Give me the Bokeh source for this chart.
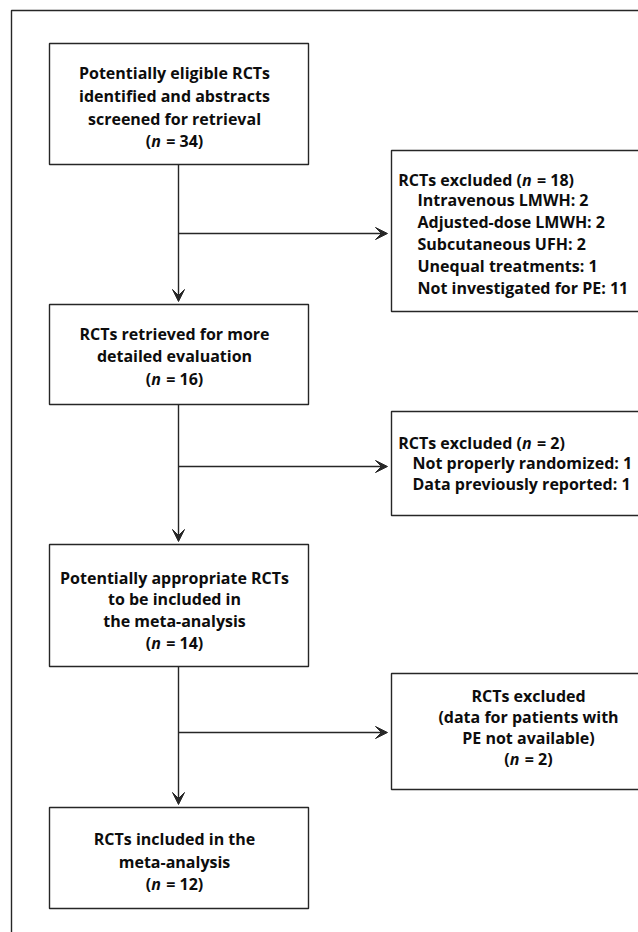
from bokeh.plotting import figure
from bokeh.models import Range1d, Arrow, VeeHead
from bokeh.embed import file_html
from bokeh.resources import INLINE
from bokeh.core.properties import value

# ---------------- data ----------------
stage_text = [
    ["Potentially eligible RCTs", "identified and abstracts", "screened for retrieval"],
    ["RCTs retrieved for more", "detailed evaluation"],
    ["Potentially appropriate RCTs", "to be included in", "the meta-analysis"],
    ["RCTs included in the", "meta-analysis"],
]
stage_n = [34, 16, 14, 12]

excluded_n = [18, 2, 2]
excl1_reasons = ["Intravenous LMWH", "Adjusted-dose LMWH", "Subcutaneous UFH",
                 "Unequal treatments", "Not investigated for PE"]
excl1_counts = [2, 2, 2, 1, 11]
excl2_reasons = ["Not properly randomized", "Data previously reported"]
excl2_counts = [1, 1]
excl3_text = ["RCTs excluded", "(data for patients with", "PE not available)"]

# ---------------- layout (screen pixels) ----------------
W, H = 638, 932
X0, Y0 = 0, 0
FS = 16
FONT = "Open Sans"
LC = "#262626"
TC = "#0d0d0d"
LW = 1.4

main_left, main_right, main_cx, text_cx = 49, 308, 178, 174
main_tops = [43, 304, 544, 807]
main_bottoms = [164, 404, 666, 908]
main_lines_y = [[72, 95, 118, 140], [333, 355, 378], [577, 598, 620, 642], [838, 861, 883]]

side_left = 391
side_rights = [720, 720, 665]
side_tops = [150, 411, 673]
side_bottoms = [311, 515, 789]
arrow_y = [233, 466, 732]
e1_y = [179, 199, 221, 243, 265, 287]
e2_y = [442, 462, 483]
e3_y = [695, 716, 737, 758]
e3_cx = 528
hdr_x, ind1_x, ind2_x = 400, 417, 412

p = figure(width=W, height=H, x_range=Range1d(X0, X0 + W), y_range=Range1d(Y0 + H, Y0),
           output_backend="svg", toolbar_location=None, min_border=0)
p.axis.visible = False
p.grid.visible = False
p.outline_line_color = None
p.background_fill_color = "white"
p.border_fill_color = "white"

# outer frame (cut by the page edges)
p.quad(left=[11], right=[800], top=[10], bottom=[1100], fill_color=None,
       line_color=LC, line_width=LW)

# boxes
p.quad(left=[main_left] * 4, right=[main_right] * 4, top=main_tops, bottom=main_bottoms,
       fill_color="white", line_color=LC, line_width=LW)
p.quad(left=[side_left] * 3, right=side_rights, top=side_tops, bottom=side_bottoms,
       fill_color="white", line_color=LC, line_width=LW)

# arrows
def arrow(xs, ys, xe, ye):
    p.add_layout(Arrow(end=VeeHead(size=12, fill_color=LC, line_color=LC, line_width=1),
                       x_start=xs, y_start=ys, x_end=xe, y_end=ye,
                       line_color=LC, line_width=LW))

for i in range(3):
    arrow(main_cx, main_bottoms[i], main_cx, main_tops[i + 1] - 3)
    arrow(main_cx, arrow_y[i], side_left - 4, arrow_y[i])

# ---------------- text ----------------
W_OSB = {' ': .26, '(': .33, ')': .33, '=': .57, 'R': .66, 'C': .61, 'T': .56,
         's': .50, 'e': .57, 'x': .56, 'c': .49, 'l': .30, 'u': .64, 'd': .64, 'n': .64}
W_N_IT = .62
W_SP = .32


def tw(s):
    return sum(W_OSB.get(ch, .57 if ch.isdigit() else .58) for ch in s) * FS


def txt(x, y, s, align="center", style="bold"):
    p.text(x=[x], y=[y], text=[s], text_font=value(FONT), text_font_style=style,
           text_font_size=f"{FS}px", text_align=align, text_baseline="middle",
           text_color=TC)


def n_line(prefix, count, y, x=None, cx=None):
    pre = prefix + "("
    post = f"= {count})"
    wn = W_N_IT * FS
    sp = W_SP * FS
    if cx is not None:
        total = tw(pre) + wn + sp + tw(post)
        xn = cx - total / 2 + tw(pre)
    else:
        xn = x + tw(pre)
    txt(xn, y, pre, align="right")
    txt(xn, y, "n", align="left", style="bold italic")
    txt(xn + wn + sp, y, post, align="left")


for lines, n, ys in zip(stage_text, stage_n, main_lines_y):
    for s, y in zip(lines, ys):
        txt(text_cx, y, s)
    n_line("", n, ys[-1], cx=text_cx)

# exclusion box 1
n_line("RCTs excluded ", excluded_n[0], e1_y[0], x=hdr_x)
for r, c, y in zip(excl1_reasons, excl1_counts, e1_y[1:]):
    txt(ind1_x, y, f"{r}: {c}", align="left")

# exclusion box 2
n_line("RCTs excluded ", excluded_n[1], e2_y[0], x=hdr_x)
for r, c, y in zip(excl2_reasons, excl2_counts, e2_y[1:]):
    txt(ind2_x, y, f"{r}: {c}", align="left")

# exclusion box 3
for s, y in zip(excl3_text, e3_y):
    txt(e3_cx, y, s)
n_line("", excluded_n[2], e3_y[-1], cx=e3_cx)

open("out.html", "w").write(file_html(p, INLINE))
